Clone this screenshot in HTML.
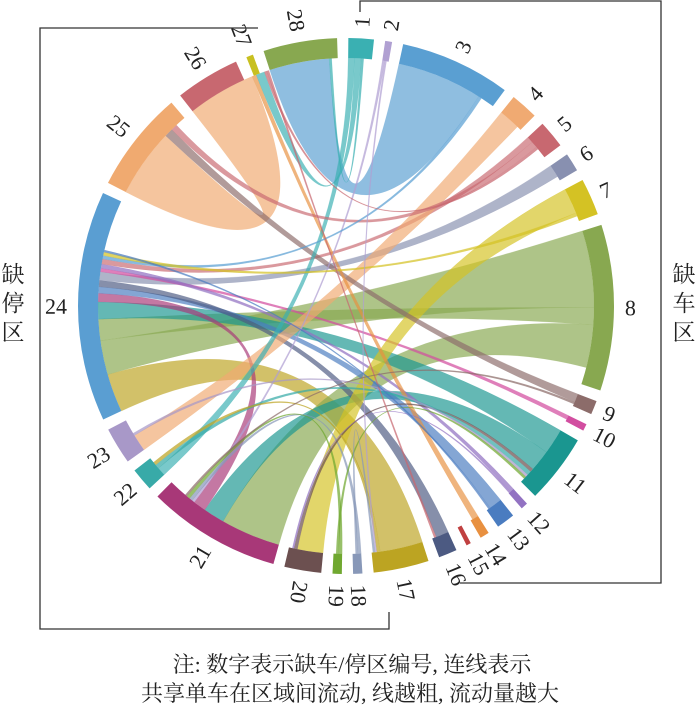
<!DOCTYPE html>
<html><head><meta charset="utf-8"><style>
html,body{margin:0;padding:0;background:#fff;}
svg{display:block;}
text{font-family:"Liberation Serif","Noto Serif CJK SC",serif;fill:#222;}
</style></head><body>
<svg id="chart" width="700" height="711" viewBox="0 0 700 711" xmlns="http://www.w3.org/2000/svg">
<g id="ribbons"></g>
<g id="groups"></g>
<g id="labels"></g>
<g fill="none" stroke="#333" stroke-width="1.3">
<polyline points="258,28 40,28 40,629 389,629 389,612"/>
</g>
<g fill="none" stroke="#333" stroke-width="1.3">
<polyline points="360,12 360,1 661,1 661,583 460,583"/>
</g>
<text x="13" y="282" font-size="23" text-anchor="middle">缺</text>
<text x="13" y="311" font-size="23" text-anchor="middle">停</text>
<text x="13" y="340" font-size="23" text-anchor="middle">区</text>
<text x="684" y="282" font-size="23" text-anchor="middle">缺</text>
<text x="684" y="311" font-size="23" text-anchor="middle">车</text>
<text x="684" y="340" font-size="23" text-anchor="middle">区</text>
<text x="352" y="672" font-size="22" text-anchor="middle">注: 数字表示缺车/停区编号, 连线表示</text>
<text x="350" y="701" font-size="22" text-anchor="middle">共享单车在区域间流动, 线越粗, 流动量越大</text>
</svg>
<script>
var groupIds=[1,2,3,4,5,6,7,8,9,10,11,12,13,14,15,16,17,18,19,20,21,22,23,24,25,26,27,28];
var groupSizes=[5.5,1.5,24,6,6,4,8,36,3,1.5,15,1.5,4,2,1,4,12,2,2,8,29,5,8,50,22,14,1.5,16];
var groupColors=["#3ab0b2","#b0a0d2","#5a9fd2","#f0aa72","#c86870","#8890b0","#d4c224","#88a850","#8c6c6a","#d24ea0","#1a9690","#9272c2","#4a7cc0","#e89040","#c04040","#4c5a82","#bca422","#8898b8","#70a830","#6c5050","#a83878","#38aaa8","#a898c8","#5a9ed2","#f0aa70","#c86870","#c8c020","#88a850"];
// chords: [colorGroup, otherGroup, widthAtColorGroup, widthAtOtherGroup]
var chordFrom=[3,25,17,8,8,8,11,11,21,13,16,6,10,12,5,7,4,9,14,1,1,5,2,18,19,20,1,22,17,23,3,7,5,26,2,9,12,19,18,13];
var chordTo=[28,26,24,24,24,21,24,21,24,24,24,24,24,24,24,20,23,25,26,22,26,25,21,21,21,11,28,11,22,11,24,24,26,16,17,21,20,11,17,24];
var chordW1=[20,16,10,18,4,10,6,5,3,3,3,3,1,1,1.5,6,5,2,1.5,1.5,1.5,1.5,0.6,0.8,0.8,0.8,0.6,1,0.8,0.6,0.8,0.8,0.6,0.5,0.4,0.5,0.4,0.6,0.5,0.5];
var chordW2=[14,16,9,8,5,14,4,5,2,1.5,1.5,2,0.8,1,1.2,6,4,2,1,2,2,1.5,0.6,0.8,0.8,0.8,0.6,1,0.8,0.6,0.8,0.8,0.6,0.5,0.4,0.5,0.4,0.6,0.5,0.5];

var NS="http://www.w3.org/2000/svg";
var cx=346,cy=306,R1=248,R2=268,RL=279;
var total=groupSizes.reduce(function(a,b){return a+b;},0);
var gap=(360-total)/groupSizes.length;
var starts=[],ends=[],cursor=[];
var a=0.5;
for(var i=0;i<groupSizes.length;i++){starts.push(a);ends.push(a+groupSizes[i]);cursor.push(a);a+=groupSizes[i]+gap;}
function pt(deg,r){var t=deg*Math.PI/180;return [cx+r*Math.sin(t),cy-r*Math.cos(t)];}
function idx(g){return groupIds.indexOf(g);}
var gR=document.getElementById('ribbons');
for(var k=0;k<chordFrom.length;k++){
  var s=idx(chordFrom[k]),t=idx(chordTo[k]);
  var a0=cursor[s],a1=a0+chordW1[k];cursor[s]=a1;
  var b0=cursor[t],b1=b0+chordW2[k];cursor[t]=b1;
  var p0=pt(a0,R1),p1=pt(a1,R1),q0=pt(b0,R1),q1=pt(b1,R1);
  var d="M"+p0+" A"+R1+" "+R1+" 0 0 1 "+p1+" Q"+cx+" "+cy+" "+q0+" A"+R1+" "+R1+" 0 0 1 "+q1+" Q"+cx+" "+cy+" "+p0+" Z";
  var p=document.createElementNS(NS,'path');
  p.setAttribute('d',d);
  p.setAttribute('fill',groupColors[s]);
  p.setAttribute('fill-opacity',chordW1[k]<1.2?'0.72':'0.68');
  p.setAttribute('stroke',groupColors[s]);
  p.setAttribute('stroke-opacity','0.3');
  p.setAttribute('stroke-width','0.4');
  
  
  gR.appendChild(p);
}
var gG=document.getElementById('groups'),gL=document.getElementById('labels');
for(var i=0;i<groupIds.length;i++){
  var o0=pt(starts[i],R2),o1=pt(ends[i],R2),n1=pt(ends[i],R1),n0=pt(starts[i],R1);
  var lg=groupSizes[i]>180?1:0;
  var d="M"+o0+" A"+R2+" "+R2+" 0 "+lg+" 1 "+o1+" L"+n1+" A"+R1+" "+R1+" 0 "+lg+" 0 "+n0+" Z";
  var p=document.createElementNS(NS,'path');
  p.setAttribute('d',d);
  p.setAttribute('fill',groupColors[i]);
  
  
  gG.appendChild(p);
  var mid=(starts[i]+ends[i])/2,lp=pt(mid,RL);
  var tx=document.createElementNS(NS,'text');
  var rot,anchor;
  if(mid<190){rot=mid-90;anchor='start';}else{rot=mid+90;anchor='end';}
  tx.setAttribute('x',lp[0]);tx.setAttribute('y',lp[1]);
  tx.setAttribute('transform','rotate('+rot+' '+lp[0]+' '+lp[1]+')');
  tx.setAttribute('text-anchor',anchor);
  tx.setAttribute('dominant-baseline','central');
  tx.setAttribute('font-size','22');
  tx.textContent=groupIds[i];
  
  
  gL.appendChild(tx);
}
</script>
</body></html>
